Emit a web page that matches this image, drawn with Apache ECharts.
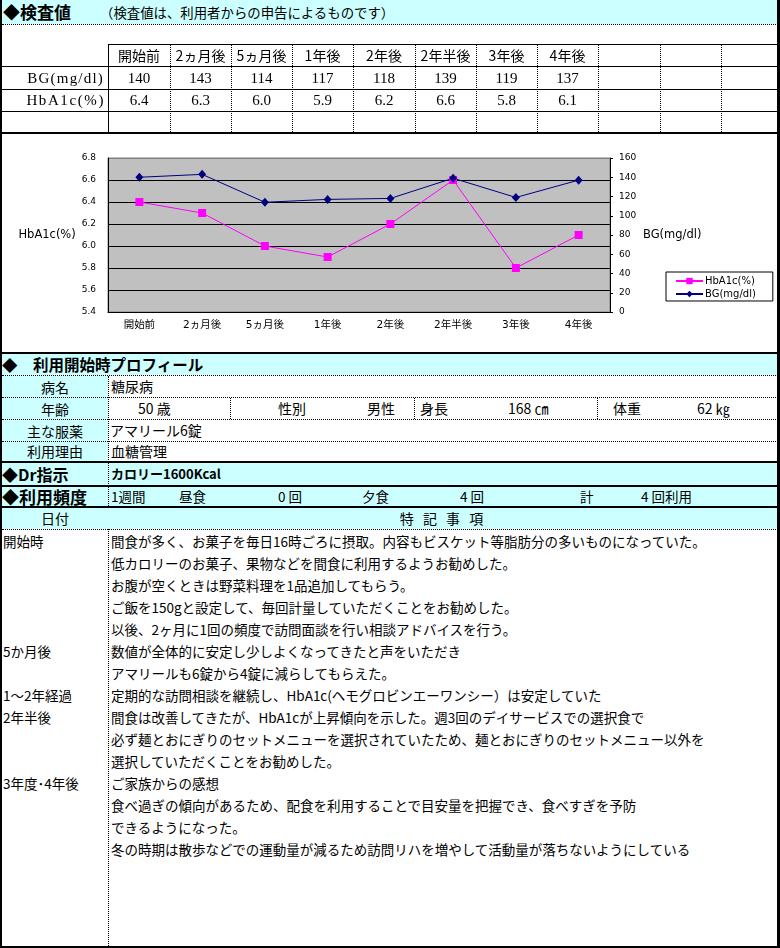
<!DOCTYPE html>
<html>
<head>
<meta charset="utf-8">
<script src="https://cdn.jsdelivr.net/npm/echarts@6/dist/echarts.min.js"></script>
<style>
  body { margin: 0; width: 780px; height: 948px; position: relative; background: #fff; overflow: hidden;
         font-family: "Noto Sans CJK JP", sans-serif; color: #000; }
  .a { position: absolute; box-sizing: border-box; white-space: nowrap; }
  .serif { font-family: "Liberation Serif", "Noto Sans CJK JP", serif; }
</style>
</head>
<body>
<div id="chart" class="a" style="left:0;top:133px;width:780px;height:219px"></div>
<div id="page"></div>
<script>
// 検査値
const categories = ['開始前', '2ヵ月後', '5ヵ月後', '1年後', '2年後', '2年半後', '3年後', '4年後'];
const bgValues = [140, 143, 114, 117, 118, 139, 119, 137];
const hba1cValues = [6.4, 6.3, 6.0, 5.9, 6.2, 6.6, 5.8, 6.1];

// 特記事項
const noteDates = ['開始時', '', '', '', '', '5か月後', '', '1～2年経過', '2年半後', '', '', '3年度･4年後', '', '', ''];
const noteTexts = [
  '間食が多く、お菓子を毎日16時ごろに摂取。内容もビスケット等脂肪分の多いものになっていた。',
  '低カロリーのお菓子、果物などを間食に利用するようお勧めした。',
  'お腹が空くときは野菜料理を1品追加してもらう。',
  'ご飯を150gと設定して、毎回計量していただくことをお勧めした。',
  '以後、2ヶ月に1回の頻度で訪問面談を行い相談アドバイスを行う。',
  '数値が全体的に安定し少しよくなってきたと声をいただき',
  'アマリールも6錠から4錠に減らしてもらえた。',
  '定期的な訪問相談を継続し、HbA1c(ヘモグロビンエーワンシー）は安定していた',
  '間食は改善してきたが、HbA1cが上昇傾向を示した。週3回のデイサービスでの選択食で',
  '必ず麺とおにぎりのセットメニューを選択されていたため、麺とおにぎりのセットメニュー以外を',
  '選択していただくことをお勧めした。',
  'ご家族からの感想',
  '食べ過ぎの傾向があるため、配食を利用することで目安量を把握でき、食べすぎを予防',
  'できるようになった。',
  '冬の時期は散歩などでの運動量が減るため訪問リハを増やして活動量が落ちないようにしている'
];

const page = document.getElementById('page');
const CYAN = '#ccffff';

function el(x, y, w, h, css, text) {
  const d = document.createElement('div');
  d.className = 'a';
  d.style.cssText = 'left:' + x + 'px;top:' + y + 'px;width:' + w + 'px;height:' + h + 'px;line-height:' + h + 'px;' + (css || '');
  if (text != null) d.textContent = text;
  page.appendChild(d);
  return d;
}
function hline(x1, x2, y, t) { el(x1, y, x2 - x1, t || 1, 'background:#000'); }
function hdot(x1, x2, y) { el(x1, y, x2 - x1, 1, 'border-top:1px dotted #000'); }
function vline(x, y1, y2) { el(x, y1, 1, y2 - y1, 'background:#000'); }
function vdot(x, y1, y2) { el(x, y1, 1, y2 - y1, 'border-left:1px dotted #000'); }
function txt(x, y, w, h, text, css) { return el(x, y, w, h, css || '', text); }

// ---- 検査値 header ----
el(2, 0, 776, 24, 'background:' + CYAN);
hdot(2, 778, 24);
txt(3, 0, 100, 24, '◆検査値', 'font-size:17px;font-weight:bold');
txt(100, 0, 320, 24, '（検査値は、利用者からの申告によるものです）', 'font-size:13.4px');

// ---- 検査値 table ----
const colX = [108, 170, 231, 292, 353, 415, 476, 537, 598, 660, 721, 778];
hline(108, 778, 44);
hline(2, 778, 66);
hline(2, 778, 89);
hline(2, 778, 111);
hline(2, 778, 132, 2);
vline(108, 44, 132);
for (let i = 1; i < colX.length - 1; i++) vdot(colX[i], 45, 132);
categories.forEach((c, i) => {
  const x = colX[i], w = colX[i + 1] - colX[i];
  txt(x, 45, w, 21, c, 'text-align:center;font-size:14px');
  txt(x, 67, w, 22, String(bgValues[i]), 'text-align:center;font-size:15px').classList.add('serif');
  txt(x, 90, w, 21, hba1cValues[i].toFixed(1), 'text-align:center;font-size:15px').classList.add('serif');
});
txt(4, 67, 100, 22, 'BG(mg/dl)', 'text-align:right;font-size:15px;letter-spacing:1.2px').classList.add('serif');
txt(4, 90, 101, 21, 'HbA1c(%)', 'text-align:right;font-size:15px;letter-spacing:1.6px').classList.add('serif');

// ---- profile ----
hline(2, 778, 352, 2);
el(2, 354, 776, 21, 'background:' + CYAN);
hdot(2, 778, 375);
txt(2, 354, 300, 21, '◆　利用開始時プロフィール', 'font-size:15.5px;font-weight:bold');
const profLabels = ['病名', '年齢', '主な服薬', '利用理由'];
const rowY = [376, 398, 420, 442, 461];
profLabels.forEach((l, i) => {
  el(2, rowY[i], 106, rowY[i + 1] - rowY[i], 'background:' + CYAN);
  txt(2, rowY[i], 106, rowY[i + 1] - rowY[i], l, 'text-align:center;font-size:14px');
  if (i < 3) hdot(2, 778, rowY[i + 1] - 1);
});
vdot(108, 376, 946);
txt(111, 376, 200, 21, '糖尿病', 'font-size:14px');
txt(138, 398, 60, 21, '50 歳', 'font-size:14px');
vdot(230, 398, 419);
txt(278, 398, 40, 21, '性別', 'font-size:14px');
txt(367, 398, 40, 21, '男性', 'font-size:14px');
vdot(414, 398, 419);
txt(420, 398, 40, 21, '身長', 'font-size:14px');
txt(508, 398, 60, 21, '168 ㎝', 'font-size:14px');
vdot(597, 398, 419);
txt(613, 398, 40, 21, '体重', 'font-size:14px');
txt(697, 398, 60, 21, '62 ㎏', 'font-size:14px');
txt(110, 420, 200, 21, 'アマリール6錠', 'font-size:14px');
txt(111, 442, 200, 19, '血糖管理', 'font-size:14px');

// ---- Dr指示 / 利用頻度 ----
hline(2, 778, 461, 2);
el(2, 463, 776, 22, 'background:' + CYAN);
txt(2, 463, 100, 22, '◆Dr指示', 'font-size:16px;font-weight:bold');
txt(111, 463, 200, 22, 'カロリー1600Kcal', 'font-size:13px;font-weight:bold');
hline(2, 778, 485, 2);
el(2, 487, 776, 19, 'background:' + CYAN);
txt(2, 487, 100, 19, '◆利用頻度', 'font-size:17px;font-weight:bold');
const freq = [[111, '1週間'], [179, '昼食'], [278, '0 回'], [362, '夕食'], [460, '4 回'], [580, '計'], [641, '4 回利用']];
freq.forEach(f => txt(f[0], 487, 80, 19, f[1], 'font-size:13.5px'));
hline(2, 778, 506, 2);
vdot(108, 463, 506);

// ---- 特記事項 ----
el(2, 508, 776, 21, 'background:' + CYAN);
txt(2, 508, 106, 21, '日付', 'text-align:center;font-size:14px');
txt(108, 508, 670, 21, '特 記 事 項', 'text-align:center;font-size:14px;letter-spacing:3px');
hdot(2, 778, 529);
noteTexts.forEach((t, i) => {
  const y = 530 + 22 * i;
  if (noteDates[i]) txt(3, y, 104, 22, noteDates[i], 'font-size:13.5px');
  txt(111, y, 660, 22, t, 'font-size:13.5px');
});

// outer border
vline(0, 0, 948); vline(1, 0, 948);
vline(777, 0, 948); vline(778, 0, 948); vline(779, 0, 948);
hline(0, 780, 946, 2);

// ---- chart ----
const font = '"DejaVu Sans", "Noto Sans CJK JP", sans-serif';
const splitColors = ['#000', '#000', '#000', '#000', '#000', '#000', '#000', '#808080'];
const myChart = echarts.init(document.getElementById('chart'));
const option = {
  animation: false,
  textStyle: { fontFamily: font, color: '#000' },
  legend: {
    orient: 'vertical',
    left: 666,
    top: 139,
    data: ['HbA1c(%)', 'BG(mg/dl)'],
    backgroundColor: '#fff',
    borderColor: '#000',
    borderWidth: 1,
    padding: [4, 17, 2, 9],
    itemGap: 3,
    itemWidth: 27,
    itemHeight: 8,
    textStyle: { fontSize: 10, color: '#000', fontFamily: font, padding: [0, 0, 0, -3] }
  },
  grid: {
    left: 108, right: 170, top: 25, bottom: 40,
    show: true, backgroundColor: '#c0c0c0', borderColor: '#808080', borderWidth: 1
  },
  xAxis: {
    type: 'category',
    data: categories,
    boundaryGap: true,
    axisLine: { lineStyle: { color: '#000', width: 1 } },
    axisTick: { length: 4, lineStyle: { color: '#000' } },
    axisLabel: { color: '#000', fontSize: 10.5, margin: 8, fontFamily: font }
  },
  yAxis: [
    {
      type: 'value', min: 5.4, max: 6.8, interval: 0.2,
      name: 'HbA1c(%)', nameLocation: 'middle', nameRotate: 0, nameGap: 31,
      nameTextStyle: { fontSize: 11.5, color: '#000', fontFamily: font },
      axisLine: { show: true, lineStyle: { color: '#000' } },
      axisTick: { show: false },
      axisLabel: { formatter: v => v.toFixed(1), fontSize: 9, margin: 12, color: '#000' },
      splitLine: { show: true, lineStyle: { color: splitColors, width: 1 } }
    },
    {
      type: 'value', min: 0, max: 160, interval: 20, position: 'right',
      name: 'BG(mg/dl)', nameLocation: 'middle', nameRotate: 0, nameGap: 33,
      nameTextStyle: { fontSize: 11.5, color: '#000', fontFamily: font },
      axisLine: { show: true, lineStyle: { color: '#000' } },
      axisTick: { show: true, length: 3, lineStyle: { color: '#000' } },
      axisLabel: { fontSize: 9, margin: 9, color: '#000' },
      splitLine: { show: false }
    }
  ],
  series: [
    {
      name: 'HbA1c(%)', type: 'line', yAxisIndex: 0, data: hba1cValues,
      symbol: 'rect', symbolSize: 8,
      itemStyle: { color: '#ff00ff' }, lineStyle: { color: '#ff00ff', width: 1 }
    },
    {
      name: 'BG(mg/dl)', type: 'line', yAxisIndex: 1, data: bgValues,
      symbol: 'diamond', symbolSize: [8, 9],
      itemStyle: { color: '#000080' }, lineStyle: { color: '#000080', width: 1 }
    }
  ]
};
myChart.setOption(option);
</script>
</body>
</html>
